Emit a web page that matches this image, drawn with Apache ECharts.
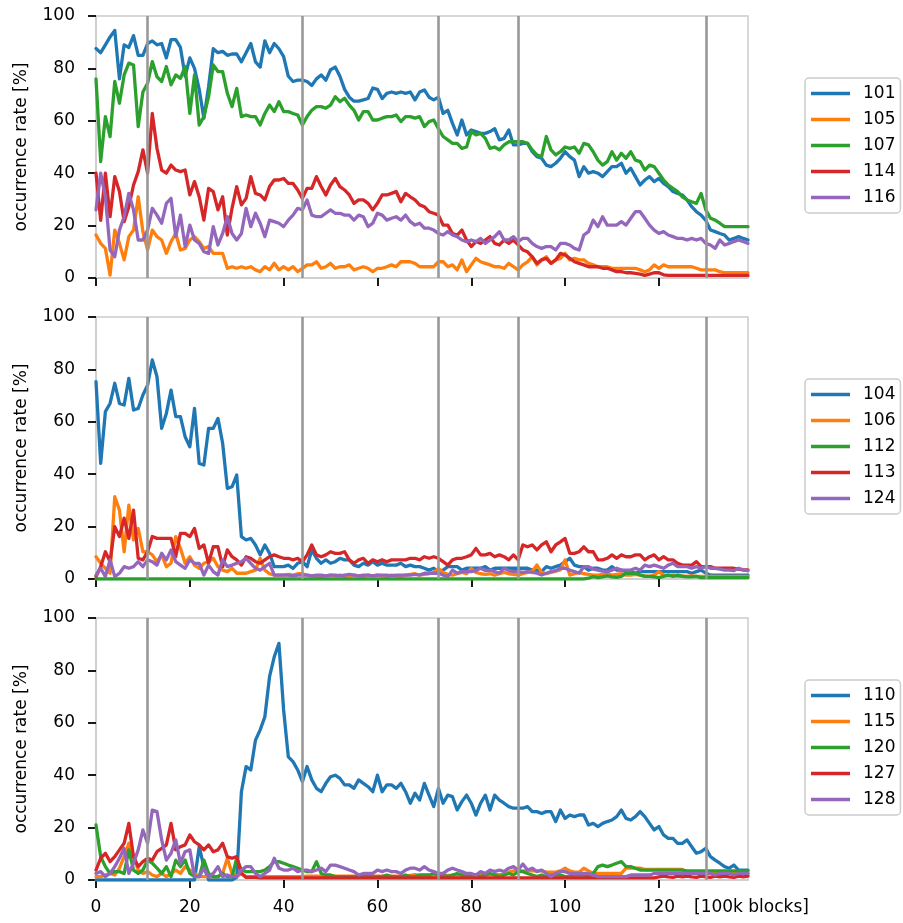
<!DOCTYPE html>
<html>
<head>
<meta charset="utf-8">
<script src="https://cdn.jsdelivr.net/npm/echarts@6/dist/echarts.min.js"></script>
<style>
html,body{margin:0;padding:0;background:#fff;}
#chart{width:903px;height:923px;}
</style>
</head>
<body>
<div id="chart"></div>
<script>
// x positions: blocks of 100k (0..139)
const blocks = Array.from({length: 140}, (_, i) => String(i));
const xTickLabels = ['0', '20', '40', '60', '80', '100', '120'];
const boundaries = [11, 44, 73, 90, 130];

// Panel 1
const names1 = ['101', '105', '107', '114', '116'];
const s101 = [
87.6,86,89,92,94.5,76,89,88,92.5,85,
85,89.5,90.5,89,89.5,84,91,91,88,77,
84,80,72,61,73,87.5,86,86.5,85,85.5,
85.5,82.5,86,89.5,82.5,80.5,90.5,86,89.5,87.5,
84.5,77,75,75.5,75.5,75,73.5,76,77.5,75.5,
79.5,80.5,77,72,69,67.5,67.5,68,68.5,72.5,
72,68.5,70.5,71,70.5,71,70.5,71,68,71,
71.8,69,68,69,62.8,64,59,54.6,60.3,54.6,
56.5,55.9,55.2,55.2,55.9,57,52.7,53.3,56.5,50.8,
50.8,51.4,51.4,48.2,46.3,45.7,43.1,42.5,43.8,45.7,
48.2,46.3,45,38.7,42.5,40,40.6,40,38.7,40.6,
42.5,42.5,43.8,40,41.9,38.7,35.5,37.4,38.7,36.8,
38,36.1,34.9,33,32.3,31.7,29.8,27.2,25.3,24,
22,18.3,17.7,17,16.4,14.5,15.1,15.8,15.1,14.5];
const s105 = [
16.4,13.2,11.3,1.1,18.3,13.2,6.9,15.8,18.3,31,
17.7,10.7,18.3,15.8,14.5,9.4,13.9,17,10.7,11.3,
14.5,15.8,13.9,11.3,12,9.4,9.4,9.4,3.7,4.3,
3.7,4.3,3.7,4.3,3.1,2.4,4.3,3.1,5.6,3.1,
4.3,3.1,4.3,2.4,3.7,5,5,6.2,3.7,4.3,
5.6,3.7,4.3,4.3,5,3.1,3.7,4.3,3.7,2.4,
3.7,3.7,4.3,5,4.3,6.2,6.2,6.2,5.6,4.3,
4.3,4.3,4.3,6.2,6.2,4.3,5,3.1,6.9,2.4,
5,7.5,6.2,5.6,5,4.3,4.3,3.7,5.6,4.3,
3.1,5,6.2,8.1,5,6.9,8.1,5.6,6.9,7.5,
9.4,6.9,7.5,6.9,6.9,5.6,5,4.3,4.3,4.3,
3.7,3.7,3.7,3.7,3.7,3.7,3.1,2.4,3.1,5,
3.7,5,4.3,4.3,4.3,4.3,4.3,4.3,3.7,3.1,
3.1,3.1,3.1,2.4,2,2,2,2,2,2];
const s107 = [
76,44.4,61.6,54,75,66.7,77.5,82,81.3,57.8,
71,74.3,82.6,76.8,75,80.7,73.7,77.5,76.2,80.7,
62.8,77.5,58.4,61.6,69.2,81.3,78.8,78.8,70.5,65.4,
72.4,61.6,62.2,61.6,61.6,58.4,62.8,66,63.5,67.3,
63.5,63.5,62.8,62.2,58.4,61.6,64,65.4,65.4,64.8,
66,69.2,67.3,68.6,66,64,60.3,63.5,63.5,60.3,
60.3,61,61.6,61.6,62.2,59.7,61.6,61.6,61,61.6,
57.8,59.7,60.3,57,54,52.7,51.4,51.4,49.5,50,
55.9,54.6,55.2,53.3,49.5,50,48.9,50.8,52,52,
52,52,51.4,48.9,47,46.3,54,48.9,47,48.2,
50,49.5,50,47.6,51.4,50.8,48.2,45,43.1,44.4,
48.2,45,47.6,45.7,48.2,45,44.4,41.2,43.1,42.5,
40,37.4,35.5,34.2,33,31,29.8,29.1,28.5,32.3,
26,22.8,22.1,20.9,19.6,19.6,19.6,19.6,19.6,19.6];
const s114 = [
40,22,40,23.4,38.7,33,21.5,27.2,35.5,40.6,
48.9,40,62.8,49.5,41.2,40,43.1,41.2,40.6,41.2,
31.7,36.8,31,22.1,34.2,33,26,31,16.4,26.6,
34.9,27.9,30.4,38.7,32.3,31.7,29.8,34.9,37.4,37.4,
38,36.1,36.1,33.6,30.4,34.2,34.2,38.7,34.9,31.7,
35.5,38,34.9,33.6,31.7,28.5,29.8,29.8,28.5,26,
28.5,31.7,31.7,32.3,33,29.1,32.3,31,29.8,27.9,
27.2,25.3,24.7,24,20.2,20.2,17,16.4,18.3,14.5,
12,13.9,13.2,14.5,15.8,13.2,12.6,14.5,13.2,14.5,
12.6,10.7,10,8.1,5.6,6.9,7.5,5.6,6.9,9.4,
8.8,7.5,6.2,5.6,5,4.3,4.3,4.3,3.7,3.7,
3.1,2.4,2.4,2,2,1.8,1.5,1,1.5,2,
2,1.2,1,1,1,1,1,1,1,1,
1,1,1,1,1,1,1,1,1,1];
const s116 = [
26,40,31,10.7,8.1,18.3,23.4,32.3,26,14.5,
14.5,18.3,26.6,24,20.9,28.5,30.4,15.8,24,12,
20.2,14.5,13.2,10,9.4,19.6,12.6,17,23.4,17,
14.5,17,26.6,19.6,24.7,20.9,15.8,22.1,21.5,20.9,
19.6,22.1,24,26.6,26,29.8,24,23.4,23.4,24.7,
26,24.7,24.7,24,24,22.1,24,23.4,19.6,20.9,
24.7,24,22.1,22.8,23.4,22.1,24,21.5,20.2,20.9,
19,19,18.3,17,16.4,17.7,16.4,15.8,14.5,13.9,
14.5,13.9,15.1,13.2,14.5,15.8,17.7,14.5,14.5,15.8,
13.9,15.1,15.1,13.2,12,11.3,12,12,10.7,13.2,
13.2,12.6,11.3,10.7,16.4,17.7,22.1,19.6,23.4,20.2,
20.2,20.2,21.5,20.2,22.8,25.3,25.3,22.8,20.2,18.3,
17,17.7,16.4,15.8,15.1,15.1,14.5,15.1,14.5,15.1,
13.2,12.6,11.3,14.5,12.6,13.2,13.9,14.5,13.9,13.2];

// Panel 2
const names2 = ['104', '106', '112', '113', '124'];
const s104 = [
75.3,44.1,63.9,67,74.7,67,66.4,76.6,64.5,65.1,
70.2,74,83.6,77.2,57.5,63.2,72.1,62,62,54.3,
50.5,65.1,44.1,43.5,57.5,57.5,61.3,51.8,34.6,35.2,
39.7,16.2,14.9,15.5,13,9.2,13,9.8,4.7,4.7,
4.7,5.3,4.1,6,6.6,4.7,11.1,7.9,6,7.3,
6,6.6,7.9,7.3,7.3,5.3,4.7,6,5.3,6.6,
5.3,6,5.3,5.3,5.3,6,4.7,5.3,4.7,4.7,
4.1,3.4,4.1,2.8,3.4,4.7,4.7,4.7,3.4,4.1,
4.1,4.1,4.1,4.7,3.4,4.1,4.1,4.1,4.1,4.1,
4.1,4.1,4.1,3.4,3.4,2.8,4.7,4.1,4.7,5.3,
6.6,7.9,5.3,4.7,4.7,3.4,4.1,4.1,3.4,3.4,
4.7,3.4,3.4,2.8,2.8,2.2,2.8,2.8,2.8,2.8,
2.8,2.8,2.8,2.8,2.8,2.8,2.8,2.2,2.8,3.4,
2.2,1.5,1.5,1.5,1.5,1.5,1.5,1.5,1.5,1.5];
const s106 = [
8.5,6,4.1,2.2,31.4,26.3,10.4,28.2,14.9,19.3,
10.4,10.4,9.2,6.6,9.2,4.7,6,16.2,11.7,6,
8.5,5.3,4.1,6,6.6,7.9,4.7,3.4,2.8,4.1,
2.2,2.2,2.2,2.8,3.4,7.9,3.4,2,1.5,1.5,
1.5,1.8,1.5,2,2,1.5,1.2,1,1,1.2,
1.5,1.2,1.5,1,1.2,1.5,1.2,1,1.5,1.2,
1.5,1.2,1,1.5,1.2,1,1.5,1.8,2,1.5,
1.8,2,2.5,4,2.5,1.8,1.5,2,2.5,2,
4,2.5,2,1.8,2,1.5,2,2.5,2,1.8,
1.5,2,2.5,3,5.3,2.5,2,2.5,3,3.5,
7.3,1.5,2,2.5,2,1.8,1.5,1.5,1.8,2,
1.5,1.8,2,1.5,1.5,1.8,1.5,1.2,1,1.5,
2.8,1.5,1.2,1.5,1,1.2,1,1.2,1,1,
1,1,1,1,1,1,1,1,1,1];
const s112 = [
0,0,0,0,0,0,0,0,0,0,
0,0,0,0,0,0,0,0,0,0,
0,0,0,0,0,0,0,0,0,0,
0,0,0,0,0,0,0,0,0,0,
0,0,0,0,0,0,0,0,0,0,
0,0,0,0,0,0,0,0,0,0,
0,0,0,0,0,0,0,0,0,0,
0,0,0,0,0,0,0,0,0,0,
0,0,0,0,0,0,0,0,0,0,
0,0,0,0,0,0,0,0,0,0,
0,0,0,0,0,0.3,0.9,0.5,0.8,1.2,
0.8,0.6,1,2.2,2.2,2.2,1.5,1,1,0.8,
0.5,1,1.5,1,1.5,1,0.8,0.8,1,0.5,
0.5,0.5,0.5,0.5,0.5,0.5,0.5,0.5,0.5,0.5];
const s113 = [
0.9,4.7,10.4,6.6,20,16.2,23.2,15.5,26.3,7.9,
7.3,10.4,16.2,15.5,15.5,15.5,15.5,8.5,17.4,17.4,
16.2,19.3,11.7,13,6,12.3,12.3,4.7,11.1,8.5,
7.3,5.3,8.5,7.9,6.6,6,7.3,8.5,9.2,8.5,
7.9,7.9,7.3,7.9,6.6,9.2,13,9.2,8.5,9.2,
10.4,9.8,9.8,10.4,7.3,6,7.3,7.9,6,7.3,
6.6,7.3,6.6,7.3,7.3,7.3,7.3,7.9,7.9,7.3,
8.5,7.9,8.5,7.9,6.6,5.3,7.3,7.9,7.9,8.5,
9.2,11.7,9.2,9.2,9.8,8.5,9.2,8.5,7.3,9.2,
7.3,13,12.3,13,11.1,13,14.2,10.4,13,14.2,
15.5,9.8,9.8,10.4,12.3,10.4,10.4,7.3,7.3,7.9,
9.2,7.9,9.2,8.5,8.5,9.2,9.2,7.3,8.5,9.2,
7.3,8.5,7.3,7.3,6,5.3,5.3,5.3,6.6,4.7,
4.7,4.7,4.1,4.1,4.1,4.1,4.1,3.8,3.5,3.5];
const s124 = [
1.5,4.1,0.9,7.3,0.9,2.2,4.7,4.1,4.7,6.6,
4.7,7.3,6.6,5.3,9.8,7.3,11.1,6.6,5.3,4.1,
7.3,6,6,1.5,5.3,2.8,1.5,7.3,4.7,5.3,
6,6.6,7.9,6,4.1,3.4,4.7,6,1.5,1.5,
1.5,1.5,1.2,1.5,1.5,1.5,1.2,1.5,1.5,1.2,
1.5,1.5,1.2,1.5,1.8,1.5,1.2,1.5,1.5,1.2,
1.5,1.5,1.5,1.2,1.5,1.5,1.5,1.5,1.8,1.5,
2.2,2.2,2.2,2.2,1.5,0.9,3.4,2.2,2.8,2.8,
2.8,3.2,4.1,3.2,3.4,2.8,2.2,4.1,3.2,2.8,
2.8,2.5,2.8,2.5,2.2,1.5,2.2,2.8,3.2,4.1,
4.1,3.4,2.8,2.2,4.7,4.7,3.8,3.4,3,2.8,
3.4,4.1,3.4,3.4,3.4,4.1,3.4,5.3,4.7,5.3,
4.7,4.1,5.3,6,4.7,4.7,4.7,4.1,4.7,4.1,
4.7,4.1,4.1,3.8,3.4,3.4,3.2,4.1,3.4,3.2];

// Panel 3
const names3 = ['110', '115', '120', '127', '128'];
const s110 = [
0,0,0,0,0,0,0,0,0,0,
0,0,0,0,0,0,0,0,0,0,
0,0,12.7,5,0,0,0,0,0,0,
1,33.7,43.3,42,53.4,57.3,62.3,77.6,85.2,90.3,
64.9,47,45.2,42,37.5,43.3,38.2,35,33.7,36.9,
39.4,40,38.8,36.3,36.3,35,38.2,36.9,35.6,33.7,
40,33.7,36.3,36.3,35,36.9,33.7,29.3,33.1,30.5,
36.9,32.4,28,35,29.3,32.4,31.8,26.7,29.9,32.4,
29.3,24.8,29.3,32.4,26.7,32.4,30.5,29.3,28,27.4,
27.4,27.4,28,26.1,26.1,25.4,26.1,26.1,22.3,26.7,
23.5,24.8,24.2,24.8,24.8,21,21.6,20.4,21.6,22.3,
22.9,24.2,26.7,23.5,22.9,24.2,26.1,24.2,21.6,19.1,
20.4,17.2,15.9,15.9,14,14,15.3,12.7,10.2,10.8,
12.1,8.9,7.6,6.4,5.1,4.5,5.7,3.8,3.8,3.8];
const s115 = [
1.3,1.3,1.9,2.5,1.9,4.5,8.9,14,8.9,3.8,
2.5,3.2,1.9,1.3,2.5,1.3,2.5,3.8,2.5,5.1,
3.8,2.5,1.3,1.3,1.3,1.3,1.3,2.5,8.3,2.5,
1.3,2.5,1.3,1.3,1.3,1.3,1.3,1.3,1.3,1.3,
1.3,1.3,1.3,1.3,1.3,1.5,1.5,1.5,1.5,1.5,
1.5,1.5,1.5,1.5,1.5,1.5,1.5,1.5,1.5,1.5,
1.5,1.5,1.5,1.5,1.5,1.5,1.5,1.8,2,1.8,
1.8,1.8,1.8,2,1.8,1.8,1.8,2,1.8,2,
2,2,2,2,2,2,2,2,3,3.5,
3.5,3.5,3.5,3.5,3.5,3.5,3,3,3,3.5,
4.5,3.5,3,3,4.5,3.5,2.5,2.5,2.5,2.5,
2.5,2.5,2.5,4.5,4.5,4.5,4.5,4,4,4,
4,4,4,4,4,4,2.5,2.5,2.5,2.5,
2.5,2.5,2.5,2.5,2.5,2.5,2.5,2.5,2.5,2.5];
const s120 = [
21,8.9,5.1,2.5,3.2,3.2,2.5,11.5,3.8,2.5,
3.8,7.6,6.4,4.5,2.5,5.1,1.3,7.6,5.1,7.6,
2.5,1.3,1.3,7.6,2.5,1.3,1.3,2.5,1.3,1.3,
8.3,3.8,3.2,3.2,3.2,3.2,3.8,5.1,7,7,
6.4,5.7,5.1,4.5,3.8,3.2,3.2,7,2.5,1.9,
1.9,1.3,1.3,1.3,1.3,1.3,1.3,1.3,1.3,1.3,
1.3,1.3,1.9,1.3,1.3,1.3,1.9,1.3,1.3,1.9,
1.9,1.9,2.5,1.9,1.9,1.3,1.9,2.5,1.9,1.3,
1.9,1.9,1.3,1.9,2.5,1.9,1.3,1.9,2.5,1.9,
3.2,3.2,2.5,1.9,1.3,1.9,1.3,1.9,1.9,1.9,
1.3,1.3,1.9,1.9,1.9,1.3,2.5,5.1,5.7,5.1,
5.7,6.4,7,5.1,5.1,4.5,3.8,3.8,3.8,3.8,
3.8,3.8,3.8,3.8,3.8,3.8,3.5,3.5,3.5,3.5,
3.5,3.5,3.5,3.5,3.5,3.5,3.5,3.5,3.5,3.5];
const s127 = [
3.8,8.3,10.2,7,8.9,11.5,14,21.6,8.9,5.1,
7,8.3,7.6,10.8,12.1,13.4,21.6,11.5,12.7,13.4,
17.2,14.6,13.4,11.5,13.4,10.8,11.5,14,8.9,8.3,
8.9,2.5,1,1,1,0.8,0.8,0.8,0.8,0.8,
0.8,0.8,0.8,0.8,0.8,0.8,0.8,0.8,0.8,0.8,
0.8,0.8,0.8,0.8,0.8,0.8,0.8,0.8,0.8,0.8,
0.8,0.8,0.8,0.8,0.8,0.8,0.8,0.8,0.8,0.8,
0.8,0.8,0.8,0.8,0.8,0.8,0.8,0.8,0.8,0.8,
0.8,0.8,0.8,0.8,0.8,0.8,0.8,0.8,0.8,0.8,
0.8,0.8,0.8,0.8,0.8,0.8,0.8,0.8,0.8,0.8,
0.8,0.8,0.8,0.8,0.8,0.8,0.8,0.8,0.8,0.8,
0.8,0.8,0.8,0.8,0.8,0.8,0.8,0.8,0.8,0.8,
1.2,1.5,1.2,1,1.5,1.2,1.5,1.2,1,1.5,
1.2,1,1.5,1.2,1.5,1.2,1,1.5,1.2,1.5];
const s128 = [
2.5,3.2,1.3,2.5,5.1,8.3,12.1,2.5,6.4,11.5,
19.1,14,26.7,26.1,15.3,7.6,10.2,15.3,6.4,10.8,
11.5,1.3,1.3,4.5,1.3,2.5,5.1,1.3,1.9,1.3,
1.3,3.8,5.1,5.1,2.5,1.3,2.5,3.8,8.3,4.5,
3.8,3.8,4.5,3.2,3.8,3.8,3.2,3.8,4.5,3.2,
5.7,5.7,5.1,4.5,3.8,3.2,1.9,2.5,2.5,2.5,
3.8,3.2,3.8,3.2,3.2,2.5,3.8,4.5,4.5,3.8,
5.1,3.8,3.2,2.5,2.5,3.8,4.5,3.8,3.2,2.5,
2.5,1.9,3.2,2.5,3.8,3.2,3.8,3.2,4.5,5.1,
3.8,6.1,3.8,4.5,3.2,3.8,2.5,1.3,2.5,3.2,
3.2,2.5,2.5,2.5,2.5,2.5,1.9,1.3,1.3,1.3,
1.3,1.3,1.3,1.3,1.9,1.9,1.9,1.9,1.9,2.5,
2.5,2.5,2.5,2.5,2.5,2.5,2.5,2.5,2.5,2.5,
2.5,2.5,1.9,2.5,2.5,2.5,1.9,2.5,2.5,2.5];

const palette = ['#1f77b4', '#ff7f0e', '#2ca02c', '#d62728', '#9467bd'];
const FONT = 'DejaVu Sans';
const panels = [
  {names: names1, values: [s101, s105, s107, s114, s116], top: 16, legendTop: 78},
  {names: names2, values: [s104, s106, s112, s113, s124], top: 317, legendTop: 379},
  {names: names3, values: [s110, s115, s120, s127, s128], top: 618, legendTop: 680}
];

const grid = [], xAxis = [], yAxis = [], series = [], legend = [];
panels.forEach((p, g) => {
  const last = g === panels.length - 1;
  grid.push({left: 96, top: p.top, width: 652, height: 262, show: true,
    borderColor: '#cccccc', borderWidth: 1.5, backgroundColor: 'transparent', containLabel: false});
  xAxis.push({
    type: 'category', gridIndex: g, data: blocks, boundaryGap: false,
    axisLine: {show: true, onZero: false, lineStyle: {color: '#cccccc', width: 1.5}},
    axisTick: {show: true, interval: 19, length: 8, lineStyle: {color: '#000', width: 1.8}},
    axisLabel: {show: last, interval: 19, margin: 19, fontSize: 17, color: '#000', fontFamily: FONT,
      formatter: v => xTickLabels.indexOf(v) >= 0 ? v : ''},
    splitLine: {show: false},
    name: last ? '[100k blocks]' : '',
    nameLocation: 'end', nameGap: -54,
    nameTextStyle: {fontSize: 17, color: '#000', fontFamily: FONT, align: 'left', verticalAlign: 'top', padding: [19, 0, 0, 0]}
  });
  yAxis.push({
    type: 'value', gridIndex: g, min: 0, max: 100, interval: 20,
    axisLine: {show: true, lineStyle: {color: '#cccccc', width: 1.5}},
    axisTick: {show: true, length: 8, lineStyle: {color: '#000', width: 1.8}},
    axisLabel: {margin: 21, fontSize: 17, color: '#000', fontFamily: FONT},
    splitLine: {show: false},
    name: 'occurrence rate [%]', nameLocation: 'middle', nameGap: 66,
    nameTextStyle: {fontSize: 17, color: '#000', fontFamily: FONT}
  });
  series.push({
    type: 'line', xAxisIndex: g, yAxisIndex: g, data: [], z: 1, silent: true,
    markLine: {symbol: ['none', 'none'], silent: true, animation: false, label: {show: false},
      lineStyle: {color: '#999999', width: 2.6, type: 'solid'},
      emphasis: {disabled: true},
      data: boundaries.map(b => ({xAxis: String(b)}))}
  });
  p.names.forEach((n, k) => {
    series.push({
      name: n, type: 'line', xAxisIndex: g, yAxisIndex: g, data: p.values[k], z: 2,
      showSymbol: false, symbol: 'none', color: palette[k],
      lineStyle: {color: palette[k], width: 3.3, join: 'round', cap: 'round'},
      emphasis: {disabled: true}, animation: false
    });
  });
  legend.push({
    data: p.names, orient: 'vertical', left: 805, top: p.legendTop,
    icon: 'rect', itemWidth: 39, itemHeight: 3.3, itemGap: 9,
    textStyle: {fontSize: 17, color: '#000', fontFamily: FONT, padding: [0, 0, 0, 8]},
    borderColor: '#cccccc', borderWidth: 1.5, borderRadius: 4,
    padding: [7, 5, 7, 6], backgroundColor: '#ffffff', selectedMode: false
  });
});

const chart = echarts.init(document.getElementById('chart'), null, {renderer: 'canvas'});
chart.setOption({
  animation: false,
  backgroundColor: '#ffffff',
  textStyle: {fontFamily: FONT},
  grid, xAxis, yAxis, series, legend
});
</script>
</body>
</html>
